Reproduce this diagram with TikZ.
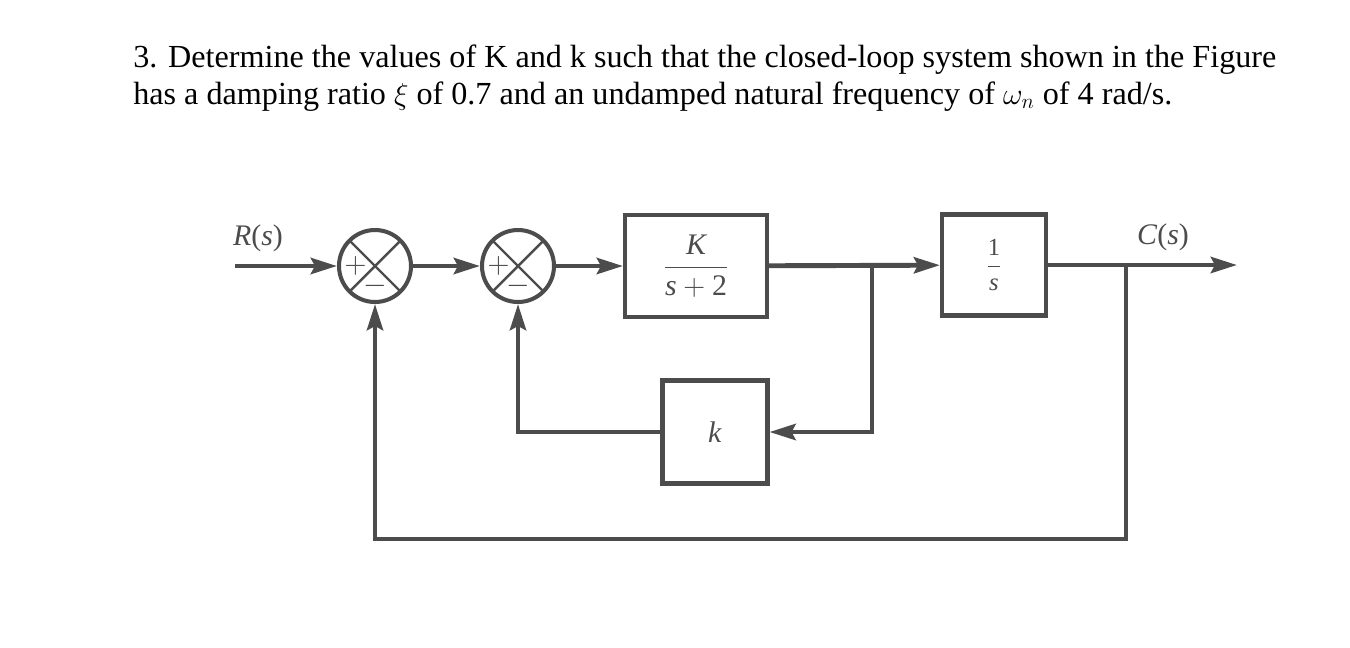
\documentclass[tikz,border=0pt]{standalone}
\usepackage{fontspec}
\setmainfont{Liberation Serif}
\usetikzlibrary{arrows.meta}
\definecolor{ink}{HTML}{4C4C4C}

\begin{document}
\begin{tikzpicture}[x=0.02cm,y=-0.02cm,
    sig/.style={draw=ink,line width=2.8pt,-{Stealth[length=0.52cm,width=0.32cm,inset=0.08cm]}},
    block/.style={draw=ink,line width=2.3pt,fill=white,inner sep=0pt,text=ink},
    sumjct/.style={circle,draw=ink,line width=2.3pt,fill=white,minimum size=1.44cm,inner sep=0pt,
        path picture={
            \draw[ink,line width=1.4pt] (path picture bounding box.north west) -- (path picture bounding box.south east)
                (path picture bounding box.north east) -- (path picture bounding box.south west);
            \path (path picture bounding box.center) ++(-0.39cm,0) node[text=ink,font=\fontsize{16}{16}\selectfont] {$+$};
            \path (path picture bounding box.center) ++(0,-0.4cm) node[text=ink,font=\fontsize{16}{16}\selectfont] {$-$};
        }},
    lbl/.style={text=ink,font=\fontsize{17}{20}\selectfont}]
    \useasboundingbox[fill=white] (0,0) rectangle (1350,647);

    % question
    \node (q1) at (133,67) [anchor=base west,font=\fontsize{18.3}{22}\selectfont,inner sep=0pt]
        {3. Determine the values of K and k such that the closed-loop system shown in the Figure};
    \node (q2) at (133,104) [anchor=base west,font=\fontsize{18.3}{22}\selectfont,inner sep=0pt]
        {has a damping ratio $\xi$ of 0.7 and an undamped natural frequency of $\omega_n$ of 4 rad/s.};

    % forward path
    \coordinate (in) at (235,266);
    \node (sum1) at (375,266) [sumjct] {};
    \node (sum2) at (518,266) [sumjct] {};
    \node (gain) at (696,266) [block,minimum width=2.84cm,minimum height=2.04cm,lbl]
        {$\displaystyle\frac{\textit{K}}{\textit{s}+\mbox{2}}$};
    \node (integ) at (994,265) [block,minimum width=2.08cm,minimum height=2.02cm,lbl,font=\fontsize{14}{16}\selectfont]
        {$\displaystyle\frac{\mbox{1}}{\textit{s}}$};
    \coordinate (out) at (1237,265);
    \node (fb) at (715,432) [block,minimum width=2.1cm,minimum height=2.06cm,lbl] {\textit{k}};

    \node (rlbl) at (258,238) [lbl] {\textit{R}(\textit{s})};
    \node (clbl) at (1163,237) [lbl] {\textit{C}(\textit{s})};

    \coordinate (tap1) at (872,266);
    \coordinate (tap2) at (1126,265);
    \coordinate (bot) at (375,539);

    \draw[sig] (in) -- (sum1);
    \draw[sig] (sum1) -- (sum2);
    \draw[sig] (sum2) -- (gain);
    \draw[sig] (gain) -- (integ);
    \draw[sig] (integ) -- (out);

    % feedback loops
    \draw[sig] (tap1) |- (fb);
    \draw[sig] (fb) -| (sum2);
    \draw[sig] (tap2) |- (bot) -- (sum1);
\end{tikzpicture}
\end{document}
